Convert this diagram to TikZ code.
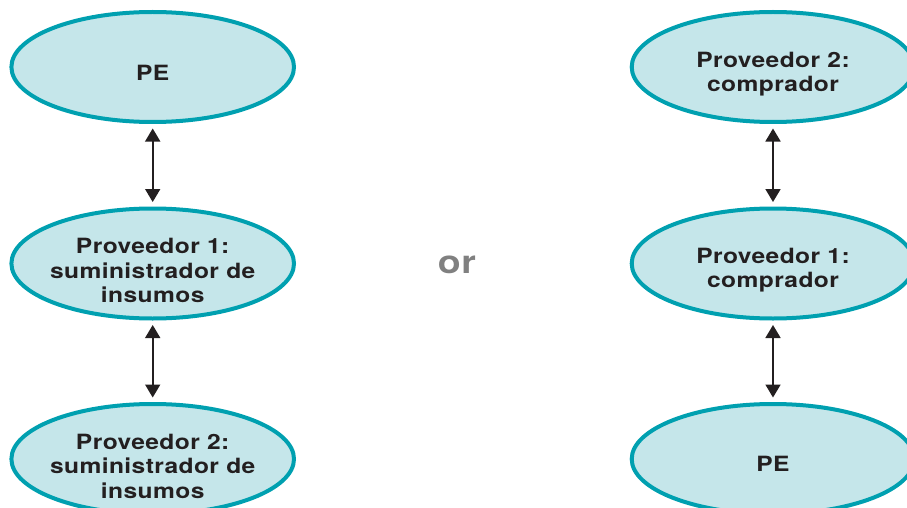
\documentclass[tikz,border=0pt]{standalone}
\usepackage{fontspec}
\setmainfont{TeX Gyre Heros}[FakeStretch=1.17, LetterSpace=2]
\usetikzlibrary{shapes.geometric, arrows.meta}

\definecolor{ringteal}{RGB}{0,160,176}
\definecolor{bubblefill}{RGB}{197,230,234}
\definecolor{inkdark}{RGB}{35,31,32}
\definecolor{orgray}{RGB}{128,128,128}

\tikzset{
  bubble/.style={ellipse, draw=ringteal, fill=bubblefill, line width=4pt,
    minimum width=282.6pt, minimum height=110pt, inner sep=0pt},
  caption/.style={font=\bfseries\fontsize{21}{24.5}\selectfont,
    text=inkdark, align=center, inner sep=0pt},
  link/.style={{Triangle[length=13pt,width=15pt]}-{Triangle[length=13pt,width=15pt]},
    line width=1.8pt, draw=inkdark, shorten >=4.5pt, shorten <=4.5pt},
}

\begin{document}
\begin{tikzpicture}[x=1pt, y=-1pt]
\useasboundingbox (0,0) rectangle (907,508);
\clip (0,0) rectangle (907,508);

% left chain: firm -> first supplier -> second supplier
\node[bubble] (peL) at (152.7,67) {};
\node[caption] (peLtext) at (152.7,73) {PE};
\node[bubble] (supA) at (152.7,263.5) {};
\node[caption] (supAtext) at (152.7,270.5) {Proveedor 1:\\suministrador de\\insumos};
\node[bubble] (supB) at (152.7,459) {};
\node[caption] (supBtext) at (152.7,466) {Proveedor 2:\\suministrador de\\insumos};

\draw[link] (peL) -- (supA);
\draw[link] (supA) -- (supB);

% separator word
\node[font=\bfseries\fontsize{32}{32}\selectfont, text=orgray, inner sep=0pt] (orword) at (457,265) {or};

% right chain: buyers above the firm
\node[bubble] (buyB) at (773,67) {};
\node[caption] (buyBtext) at (773,74) {Proveedor 2:\\comprador};
\node[bubble] (buyA) at (773,263.5) {};
\node[caption] (buyAtext) at (773,270) {Proveedor 1:\\comprador};
\node[bubble] (peR) at (773,459) {};
\node[caption] (peRtext) at (773,464) {PE};

\draw[link] (buyB) -- (buyA);
\draw[link] (buyA) -- (peR);
\end{tikzpicture}
\end{document}
